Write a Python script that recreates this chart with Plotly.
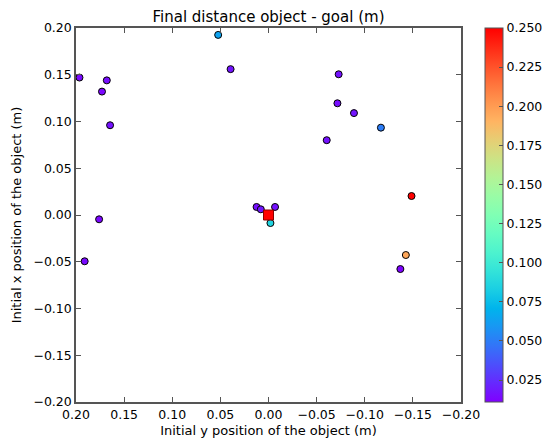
import numpy as np
import plotly.graph_objects as go

# Data: initial object position (horizontal = y position, vertical = x position) and final distance
init_y = [0.1964, 0.173, 0.168, 0.1646, 0.0523, 0.0394, 0.0124, 0.008, -0.0068, -0.002,
          0.176, 0.191, -0.0729, -0.0716, -0.0888, -0.1168, -0.0605, -0.1486, -0.1427, -0.137]
init_x = [0.147, 0.132, 0.144, 0.096, 0.1926, 0.156, 0.0086, 0.0061, 0.0086, -0.0086,
          -0.0046, -0.0495, 0.1505, 0.1195, 0.109, 0.0934, 0.080, 0.0203, -0.0428, -0.0578]
final_dist = [0.014, 0.013, 0.015, 0.016, 0.064, 0.017, 0.015, 0.018, 0.016, 0.086,
              0.013, 0.014, 0.016, 0.015, 0.017, 0.050, 0.016, 0.250, 0.195, 0.012]
goal_y = [0.0]
goal_x = [0.0]
cmin, cmax = 0.011, 0.25
cbar_ticks = [0.025, 0.050, 0.075, 0.100, 0.125, 0.150, 0.175, 0.200, 0.225, 0.250]
axis_ticks = [0.20, 0.15, 0.10, 0.05, 0.00, -0.05, -0.10, -0.15, -0.20]

# matplotlib "rainbow" colormap
ts = np.linspace(0, 1, 21)
rainbow = []
for t in ts:
    r = min(1.0, abs(2 * t - 0.5))
    g = np.sin(np.pi * t)
    b = np.cos(np.pi * t / 2)
    rainbow.append([float(t), "rgb(%d,%d,%d)" % (round(r * 255), round(g * 255), round(b * 255))])

FONT = "DejaVu Sans"
TICK = 12.5
fig = go.Figure()
fig.add_trace(go.Scatter(
    x=init_y, y=init_x, mode="markers", cliponaxis=False,
    marker=dict(size=7, color=final_dist, colorscale=rainbow, cmin=cmin, cmax=cmax,
                line=dict(color="black", width=1),
                colorbar=dict(x=1.062, xanchor="left", y=0.5, yanchor="middle",
                              len=1, lenmode="fraction", thickness=18, xpad=0, ypad=0,
                              outlinewidth=1, outlinecolor="#555555",
                              tickvals=cbar_ticks, tickformat=".3f",
                              ticks="inside", ticklen=4, tickcolor="#555555",
                              tickfont=dict(family=FONT, size=TICK, color="black"))),
    showlegend=False))
fig.add_trace(go.Scatter(
    x=goal_y, y=goal_x, mode="markers", cliponaxis=False,
    marker=dict(size=10, symbol="square", color="red", line=dict(color="#8b0000", width=1)),
    showlegend=False))

axis_common = dict(tickvals=axis_ticks, tickformat=".2f", automargin=False,
                   showgrid=False, zeroline=False, showline=True, linecolor="#555555",
                   linewidth=1.5, mirror="ticks", ticks="inside", ticklen=5,
                   tickcolor="#555555", tickfont=dict(family=FONT, size=TICK, color="black"))
fig.update_xaxes(**axis_common, range=[0.2, -0.2],
                 title=dict(text="Initial y position of the object (m)", standoff=7,
                            font=dict(family=FONT, size=13, color="black")))
fig.update_yaxes(**axis_common, range=[-0.2, 0.2],
                 title=dict(text="Initial x position of the object (m)", standoff=9,
                            font=dict(family=FONT, size=13, color="black")))
fig.update_layout(
    width=545, height=438,
    margin=dict(l=76, r=84, t=28, b=36, autoexpand=False),
    paper_bgcolor="white", plot_bgcolor="white",
    title=dict(text="Final distance object - goal (m)", x=(76 + 461) / 2 / 545, xanchor="center",
               y=1 - 17 / 438, yanchor="middle", yref="container",
               font=dict(family=FONT, size=15, color="black")),
)
fig.write_html("out.html", config={"displayModeBar": False},
               post_script="document.body.style.margin='0';document.body.style.overflow='hidden';")
